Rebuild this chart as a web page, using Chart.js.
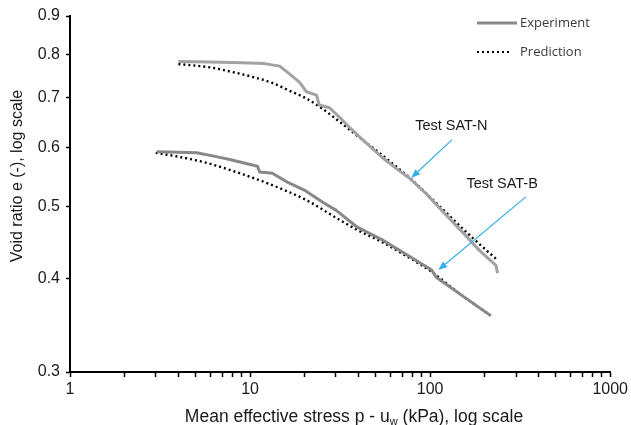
<!DOCTYPE html>
<html><head><meta charset="utf-8">
<script src="https://cdn.jsdelivr.net/npm/chart.js@4/dist/chart.umd.min.js"></script>
<style>html,body{margin:0;padding:0;background:#fff;}#wrap{width:631px;height:425px;}</style>
</head><body><div id="wrap"><canvas id="c" width="631" height="425"></canvas></div>
<script>
// Test SAT-N : measured and predicted void ratio vs mean effective stress
const satNExpP = [4.0, 6.0, 9.0, 12.0, 14.6, 16.1, 18.8, 20.6, 23.4, 24.2, 27.6, 32.5, 35.5, 42.0, 54.0, 65.0, 76.5, 95.0, 116, 150, 187, 232, 237];
const satNExpE = [0.782, 0.781, 0.779, 0.777, 0.771, 0.757, 0.734, 0.712, 0.705, 0.684, 0.678, 0.653, 0.639, 0.615, 0.582, 0.562, 0.546, 0.520, 0.494, 0.463, 0.437, 0.417, 0.407];
const satNPredP = [4.0, 6.0, 8.0, 10.5, 13.3, 16.5, 20.5, 25.0, 30.5, 40.0, 55.0, 79.0, 116, 170, 236];
const satNPredE = [0.776, 0.768, 0.757, 0.745, 0.732, 0.715, 0.698, 0.677, 0.653, 0.620, 0.584, 0.543, 0.497, 0.455, 0.424];

// Test SAT-B
const satBExpP = [3.03, 4.0, 5.05, 6.3, 7.7, 9.5, 11.0, 11.3, 13.3, 16.1, 20.0, 25.2, 30.1, 39.4, 54.2, 75.0, 102, 108, 150, 217];
const satBExpE = [0.592, 0.591, 0.590, 0.584, 0.578, 0.571, 0.566, 0.556, 0.554, 0.539, 0.526, 0.507, 0.494, 0.469, 0.451, 0.430, 0.411, 0.402, 0.380, 0.357];
const satBPredP = [2.99, 4.0, 5.74, 8.76, 13.3, 20.5, 31.3, 39.4, 55.0, 75.0, 100, 150, 217];
const satBPredE = [0.590, 0.583, 0.572, 0.554, 0.534, 0.510, 0.480, 0.465, 0.447, 0.428, 0.410, 0.380, 0.357];

// Axis ticks
const xTickValues = [1,2,3,4,5,6,7,8,9,10,20,30,40,50,60,70,80,90,100,200,300,400,500,600,700,800,900,1000];
const xTickLabels = {1:'1', 10:'10', 100:'100', 1000:'1000'};
const yTickValues = [0.3, 0.4, 0.5, 0.6, 0.7, 0.8, 0.9];

// Callouts: label position, arrow tail and arrow tip in data units
const callouts = [
  {text:'Test SAT-N', at:[131, 0.641], tail:[132, 0.614], tip:[78.5, 0.546]},
  {text:'Test SAT-B', at:[251, 0.536], tail:[340, 0.515], tip:[111, 0.411]}
];

const pts = (xs, ys) => xs.map((x, i) => ({x, y: ys[i]}));

const FONT = '"Liberation Sans", Arial, sans-serif';

const extras = {
  id: 'extras',
  afterDraw(chart) {
    const ctx = chart.ctx, xs = chart.scales.x, ys = chart.scales.y;
    ctx.save();
    // y-axis title
    ctx.fillStyle = '#1a1a1a';
    ctx.font = '16px ' + FONT;
    ctx.textAlign = 'center';
    ctx.textBaseline = 'middle';
    ctx.save();
    ctx.translate(18, 176);
    ctx.rotate(-Math.PI / 2);
    ctx.fillText('Void ratio e (-), log scale', 0, 0);
    ctx.restore();
    // x-axis title with subscript
    const a = 'Mean effective stress p - u', sub = 'w', b = ' (kPa), log scale';
    ctx.font = '17.5px ' + FONT;
    const wa = ctx.measureText(a).width, wb = ctx.measureText(b).width;
    ctx.font = '11px ' + FONT;
    const ws = ctx.measureText(sub).width;
    const total = wa + ws + wb;
    let x0 = 354 - total / 2;
    const yb = 422;
    ctx.textAlign = 'left';
    ctx.textBaseline = 'alphabetic';
    ctx.font = '17.5px ' + FONT;
    ctx.fillText(a, x0, yb);
    ctx.font = '11px ' + FONT;
    ctx.fillText(sub, x0 + wa, yb + 3);
    ctx.font = '17.5px ' + FONT;
    ctx.fillText(b, x0 + wa + ws, yb);

    // legend
    ctx.lineCap = 'butt';
    ctx.strokeStyle = '#8a8a8a';
    ctx.lineWidth = 3;
    ctx.beginPath(); ctx.moveTo(477, 23); ctx.lineTo(517, 23); ctx.stroke();
    ctx.strokeStyle = '#000';
    ctx.lineWidth = 2.2;
    ctx.setLineDash([2, 3]);
    ctx.beginPath(); ctx.moveTo(477, 52); ctx.lineTo(511, 52); ctx.stroke();
    ctx.setLineDash([]);
    ctx.fillStyle = '#3a3a3a';
    ctx.font = '13px "Open Sans", sans-serif';
    ctx.textBaseline = 'middle';
    ctx.fillText('Experiment', 520, 23);
    ctx.fillText('Prediction', 520, 52);

    // callouts
    callouts.forEach(c => {
      ctx.fillStyle = '#1a1a1a';
      ctx.font = '14.5px ' + FONT;
      ctx.textAlign = 'center';
      ctx.textBaseline = 'middle';
      ctx.fillText(c.text, xs.getPixelForValue(c.at[0]), ys.getPixelForValue(c.at[1]));
      const tx = xs.getPixelForValue(c.tail[0]), ty = ys.getPixelForValue(c.tail[1]);
      const hx = xs.getPixelForValue(c.tip[0]), hy = ys.getPixelForValue(c.tip[1]);
      const ang = Math.atan2(hy - ty, hx - tx);
      const hl = 9, hw = 3.5;
      const bx = hx - hl * Math.cos(ang), by = hy - hl * Math.sin(ang);
      ctx.strokeStyle = '#33aee6';
      ctx.fillStyle = '#33aee6';
      ctx.lineWidth = 1.2;
      ctx.beginPath(); ctx.moveTo(tx, ty); ctx.lineTo(bx, by); ctx.stroke();
      ctx.beginPath();
      ctx.moveTo(hx, hy);
      ctx.lineTo(bx + hw * Math.sin(ang), by - hw * Math.cos(ang));
      ctx.lineTo(bx - hw * Math.sin(ang), by + hw * Math.cos(ang));
      ctx.closePath(); ctx.fill();
    });
    ctx.restore();
  }
};

new Chart(document.getElementById('c'), {
  type: 'scatter',
  data: {
    datasets: [
      {label: 'Experiment SAT-N', data: pts(satNExpP, satNExpE), showLine: true, borderColor: '#a2a2a2', borderWidth: 3, pointRadius: 0, borderJoinStyle: 'round'},
      {label: 'Experiment SAT-B', data: pts(satBExpP, satBExpE), showLine: true, borderColor: '#888888', borderWidth: 3, pointRadius: 0, borderJoinStyle: 'round'},
      {label: 'Prediction SAT-N', data: pts(satNPredP, satNPredE), showLine: true, borderColor: '#000', borderWidth: 2.4, borderDash: [2, 3], pointRadius: 0, cubicInterpolationMode: 'monotone'},
      {label: 'Prediction SAT-B', data: pts(satBPredP, satBPredE), showLine: true, borderColor: '#000', borderWidth: 2.4, borderDash: [2, 3], pointRadius: 0, cubicInterpolationMode: 'monotone'}
    ]
  },
  options: {
    responsive: false,
    animation: false,
    devicePixelRatio: 1,
    layout: {padding: {top: 16, right: 19, left: 0, bottom: 0}},
    plugins: {legend: {display: false}, tooltip: {enabled: false}},
    scales: {
      x: {
        type: 'logarithmic', min: 1, max: 1000,
        afterBuildTicks: s => { s.ticks = xTickValues.map(v => ({value: v})); },
        afterFit: s => { s.height = 53; },
        ticks: {autoSkip: false, maxRotation: 0, padding: 3, color: '#1a1a1a', font: {family: FONT, size: 16},
          callback: v => xTickLabels[v] || ''},
        grid: {drawOnChartArea: false, drawTicks: true, tickLength: 5, tickColor: '#000', tickWidth: 1.5},
        border: {color: '#000', width: 2}
      },
      y: {
        type: 'logarithmic', min: 0.3, max: 0.9,
        afterBuildTicks: s => { s.ticks = yTickValues.map(v => ({value: v})); },
        afterFit: s => { s.width = 70; },
        ticks: {autoSkip: false, padding: 6, color: '#1a1a1a', font: {family: FONT, size: 16},
          callback: v => Number(v).toFixed(1)},
        grid: {drawOnChartArea: false, drawTicks: true, tickLength: 4, tickColor: '#000', tickWidth: 1.5},
        border: {color: '#000', width: 2}
      }
    }
  },
  plugins: [extras]
});
</script></body></html>
